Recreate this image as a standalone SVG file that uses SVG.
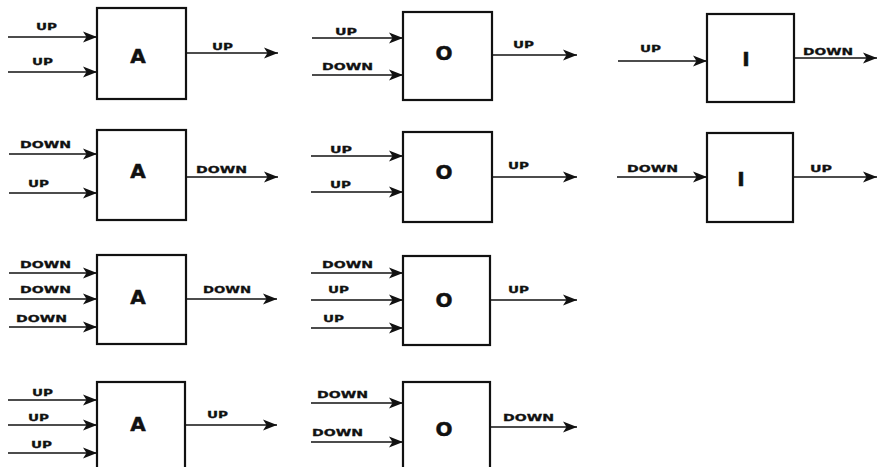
<svg xmlns="http://www.w3.org/2000/svg" width="878" height="467" viewBox="0 0 878 467">
<style>
.box{fill:#fff;stroke:#111;stroke-width:2.2}
.ln{stroke:#111;stroke-width:1.5;fill:none;marker-end:url(#ah)}
.lb{font-family:"DejaVu Sans",sans-serif;font-weight:bold;font-size:9.5px;fill:#111;stroke:#111;stroke-width:0.3}
.g{font-family:"DejaVu Sans",sans-serif;font-weight:bold;font-size:20px;fill:#111;stroke:#111;stroke-width:0.5;text-anchor:middle}
</style>
<defs>
<marker id="ah" markerUnits="userSpaceOnUse" markerWidth="16" markerHeight="14" viewBox="-15 -7 16 14" refX="0" refY="0" orient="auto">
<path d="M0,0 L-14,-5.5 L-10.5,0 L-14,5.5 Z" fill="#111"/>
</marker>
</defs>
<rect width="878" height="467" fill="#fff"/>

<g id="connectors">
<!-- A1 -->
<line class="ln" x1="8" y1="37" x2="97" y2="37"/>
<line class="ln" x1="8" y1="72" x2="97" y2="72"/>
<line class="ln" x1="186" y1="53" x2="278" y2="53"/>
<!-- A2 -->
<line class="ln" x1="9" y1="154" x2="97" y2="154"/>
<line class="ln" x1="9" y1="193" x2="97" y2="193"/>
<line class="ln" x1="186" y1="177" x2="278" y2="177"/>
<!-- A3 -->
<line class="ln" x1="9" y1="273" x2="97" y2="273"/>
<line class="ln" x1="9" y1="299" x2="97" y2="299"/>
<line class="ln" x1="9" y1="327" x2="97" y2="327"/>
<line class="ln" x1="186" y1="299" x2="277" y2="299"/>
<!-- A4 -->
<line class="ln" x1="8" y1="400" x2="97" y2="400"/>
<line class="ln" x1="8" y1="425" x2="97" y2="425"/>
<line class="ln" x1="8" y1="453" x2="97" y2="453"/>
<line class="ln" x1="185" y1="425" x2="277" y2="425"/>
<!-- O1 -->
<line class="ln" x1="312" y1="38" x2="403" y2="38"/>
<line class="ln" x1="312" y1="75" x2="403" y2="75"/>
<line class="ln" x1="492" y1="55" x2="577" y2="55"/>
<!-- O2 -->
<line class="ln" x1="311" y1="156" x2="403" y2="156"/>
<line class="ln" x1="311" y1="192" x2="403" y2="192"/>
<line class="ln" x1="492" y1="177" x2="577" y2="177"/>
<!-- O3 -->
<line class="ln" x1="311" y1="273" x2="403" y2="273"/>
<line class="ln" x1="311" y1="300" x2="403" y2="300"/>
<line class="ln" x1="311" y1="328" x2="403" y2="328"/>
<line class="ln" x1="490" y1="300" x2="577" y2="300"/>
<!-- O4 -->
<line class="ln" x1="311" y1="403" x2="403" y2="403"/>
<line class="ln" x1="311" y1="442" x2="403" y2="442"/>
<line class="ln" x1="490" y1="427" x2="577" y2="427"/>
<!-- I1 -->
<line class="ln" x1="618" y1="61" x2="707" y2="61"/>
<line class="ln" x1="794" y1="58" x2="877" y2="58"/>
<!-- I2 -->
<line class="ln" x1="617" y1="177" x2="707" y2="177"/>
<line class="ln" x1="793" y1="177" x2="877" y2="177"/>
</g>

<g id="A1">
<rect class="box" x="97" y="8" width="89" height="91"/>
<text class="g" x="138" y="63">A</text>
<text class="lb" x="36" y="30" textLength="21" lengthAdjust="spacingAndGlyphs">UP</text>
<text class="lb" x="32" y="65" textLength="21" lengthAdjust="spacingAndGlyphs">UP</text>
<text class="lb" x="212" y="50" textLength="21" lengthAdjust="spacingAndGlyphs">UP</text>
</g>
<g id="A2">
<rect class="box" x="97" y="130" width="89" height="90"/>
<text class="g" x="138" y="178">A</text>
<text class="lb" x="20" y="148" textLength="51" lengthAdjust="spacingAndGlyphs">DOWN</text>
<text class="lb" x="28" y="187" textLength="21" lengthAdjust="spacingAndGlyphs">UP</text>
<text class="lb" x="196" y="173" textLength="51" lengthAdjust="spacingAndGlyphs">DOWN</text>
</g>
<g id="A3">
<rect class="box" x="97" y="255" width="89" height="89"/>
<text class="g" x="138" y="304">A</text>
<text class="lb" x="20" y="268" textLength="51" lengthAdjust="spacingAndGlyphs">DOWN</text>
<text class="lb" x="20" y="293" textLength="51" lengthAdjust="spacingAndGlyphs">DOWN</text>
<text class="lb" x="16" y="322" textLength="51" lengthAdjust="spacingAndGlyphs">DOWN</text>
<text class="lb" x="203" y="293" textLength="48" lengthAdjust="spacingAndGlyphs">DOWN</text>
</g>
<g id="A4">
<rect class="box" x="97" y="382" width="88" height="95"/>
<text class="g" x="138" y="431">A</text>
<text class="lb" x="32" y="396" textLength="21" lengthAdjust="spacingAndGlyphs">UP</text>
<text class="lb" x="28" y="421" textLength="21" lengthAdjust="spacingAndGlyphs">UP</text>
<text class="lb" x="31" y="448" textLength="21" lengthAdjust="spacingAndGlyphs">UP</text>
<text class="lb" x="207" y="418" textLength="21" lengthAdjust="spacingAndGlyphs">UP</text>
</g>

<g id="O1">
<rect class="box" x="403" y="12" width="89" height="88"/>
<text class="g" x="444" y="60">O</text>
<text class="lb" x="335" y="35" textLength="22" lengthAdjust="spacingAndGlyphs">UP</text>
<text class="lb" x="322" y="70" textLength="51" lengthAdjust="spacingAndGlyphs">DOWN</text>
<text class="lb" x="513" y="48" textLength="21" lengthAdjust="spacingAndGlyphs">UP</text>
</g>
<g id="O2">
<rect class="box" x="403" y="132" width="89" height="90"/>
<text class="g" x="444" y="179">O</text>
<text class="lb" x="330" y="153" textLength="22" lengthAdjust="spacingAndGlyphs">UP</text>
<text class="lb" x="330" y="188" textLength="21" lengthAdjust="spacingAndGlyphs">UP</text>
<text class="lb" x="508" y="169" textLength="21" lengthAdjust="spacingAndGlyphs">UP</text>
</g>
<g id="O3">
<rect class="box" x="403" y="256" width="87" height="89"/>
<text class="g" x="444" y="307">O</text>
<text class="lb" x="322" y="268" textLength="51" lengthAdjust="spacingAndGlyphs">DOWN</text>
<text class="lb" x="328" y="293" textLength="21" lengthAdjust="spacingAndGlyphs">UP</text>
<text class="lb" x="323" y="322" textLength="21" lengthAdjust="spacingAndGlyphs">UP</text>
<text class="lb" x="508" y="293" textLength="21" lengthAdjust="spacingAndGlyphs">UP</text>
</g>
<g id="O4">
<rect class="box" x="403" y="382" width="87" height="95"/>
<text class="g" x="444" y="436">O</text>
<text class="lb" x="317" y="398" textLength="51" lengthAdjust="spacingAndGlyphs">DOWN</text>
<text class="lb" x="312" y="436" textLength="51" lengthAdjust="spacingAndGlyphs">DOWN</text>
<text class="lb" x="503" y="421" textLength="51" lengthAdjust="spacingAndGlyphs">DOWN</text>
</g>

<g id="I1">
<rect class="box" x="707" y="14" width="87" height="88"/>
<text class="g" x="746" y="66">I</text>
<text class="lb" x="640" y="52" textLength="21" lengthAdjust="spacingAndGlyphs">UP</text>
<text class="lb" x="803" y="55" textLength="50" lengthAdjust="spacingAndGlyphs">DOWN</text>
</g>
<g id="I2">
<rect class="box" x="707" y="133" width="86" height="89"/>
<text class="g" x="741" y="186">I</text>
<text class="lb" x="627" y="172" textLength="51" lengthAdjust="spacingAndGlyphs">DOWN</text>
<text class="lb" x="810" y="172" textLength="22" lengthAdjust="spacingAndGlyphs">UP</text>
</g>
</svg>
